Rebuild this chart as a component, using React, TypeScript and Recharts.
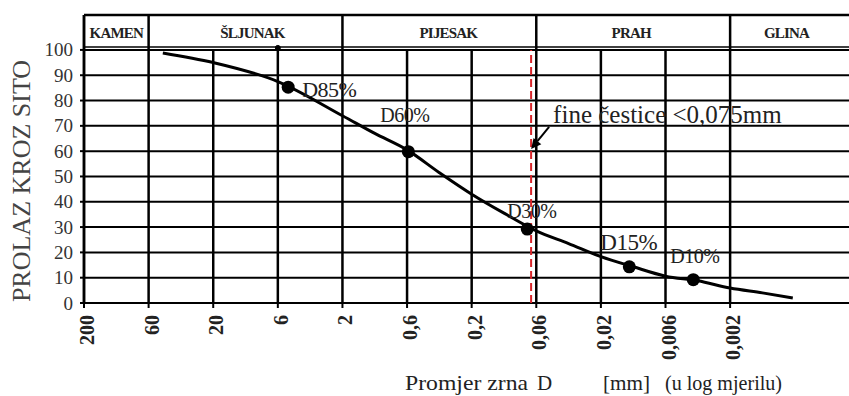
import React from 'react';
import {
  ComposedChart,
  Line,
  Scatter,
  XAxis,
  YAxis,
  CartesianGrid,
  ReferenceLine,
  ReferenceArea,
  ReferenceDot,
  Label,
} from 'recharts';

// ---------- data ----------
const SIEVE_LABELS = ['200', '60', '20', '6', '2', '0,6', '0,2', '0,06', '0,02', '0,006', '0,002'];
const SIEVE_POS = [0, 1, 2, 3, 4, 5, 6, 7, 8, 9, 10];
const PASSING_TICKS = [0, 10, 20, 30, 40, 50, 60, 70, 80, 90, 100];

const CURVE_X = [1.22, 2, 3, 4, 4.5, 5, 5.5, 6, 6.5, 7, 7.5, 8, 8.5, 9, 9.5, 10, 10.5, 10.97];
const CURVE_Y = [98.8, 95, 87.5, 74, 67, 60.5, 51.5, 43, 35.5, 28.5, 23.5, 18.3, 14.3, 10.6, 8.8, 5.9, 4, 2];

const D_NAMES = ['D85%', 'D60%', 'D30%', 'D15%', 'D10%'];
const D_X = [3.16, 5.02, 6.86, 8.44, 9.43];
const D_Y = [85.3, 59.8, 29.2, 14.3, 9.2];

const SOIL_CLASSES = ['KAMEN', 'ŠLJUNAK', 'PIJESAK', 'PRAH', 'GLINA'];
const CLASS_BOUNDS = [0, 1, 4, 7, 10, 11.84];

const FINES_LIMIT = 6.92; // position of 0,075 mm on the sieve axis
const FINES_TEXT = 'fine čestice <0,075mm';

const X_MAX = 11.84;
const Y_TOP = 113.8;

// ---------- styles ----------
const FONT = '"Liberation Serif", "Times New Roman", serif';
const LABEL_STYLE: Record<string, { dx: number; dy: number; size: number }> = {
  'D85%': { dx: 14, dy: 2, size: 22 },
  'D60%': { dx: -28, dy: -37, size: 20 },
  'D30%': { dx: -20, dy: -18, size: 20 },
  'D15%': { dx: -29, dy: -24, size: 23 },
  'D10%': { dx: -23, dy: -24, size: 20 },
};
const HEADER_DX: Record<string, number> = { KAMEN: 0, 'ŠLJUNAK': 7, PIJESAK: 9, PRAH: -2, GLINA: -3 };

const curve = CURVE_X.map((x, i) => ({ x, y: CURVE_Y[i] }));
const dPoints = D_NAMES.map((name, i) => ({ name, x: D_X[i], y: D_Y[i] }));

const XTick = (props: any) => {
  const { x, y, payload } = props;
  const ty = y + 5;
  return (
    <text
      x={x + 3}
      y={ty}
      transform={`rotate(-90, ${x + 3}, ${ty})`}
      textAnchor="end"
      dominantBaseline="central"
      fontFamily={FONT}
      fontWeight="bold"
      fontSize={20}
      fill="#222"
    >
      {SIEVE_LABELS[payload.value]}
    </text>
  );
};

const YTick = (props: any) => {
  const { x, y, payload } = props;
  return (
    <text x={x} y={y} textAnchor="end" dominantBaseline="central" fontFamily={FONT} fontSize={19} fill="#333">
      {payload.value}
    </text>
  );
};

const DShape = (props: any) => {
  const { cx, cy, payload } = props;
  const s = LABEL_STYLE[payload.name];
  return (
    <g>
      <circle cx={cx} cy={cy} r={6.5} fill="#000" />
      <text
        x={cx + s.dx}
        y={cy + s.dy}
        dominantBaseline="central"
        fontFamily={FONT}
        fontSize={s.size}
        fill="#222"
        letterSpacing={-0.5}
      >
        {payload.name}
      </text>
    </g>
  );
};

const FinesLabel = (props: any) => {
  const { viewBox } = props;
  const x = viewBox.x;
  const y = viewBox.y;
  const tx = x + 18;
  const ty = y + 77;
  const hx = x;
  const hy = y + 99;
  const ang = Math.atan2(hy - ty, hx - tx);
  const L = 10;
  const W = 5;
  const bx = hx - L * Math.cos(ang);
  const by = hy - L * Math.sin(ang);
  const px = -Math.sin(ang) * W;
  const py = Math.cos(ang) * W;
  return (
    <g>
      <line x1={tx} y1={ty} x2={bx} y2={by} stroke="#000" strokeWidth={2} />
      <polygon points={`${hx},${hy} ${bx + px},${by + py} ${bx - px},${by - py}`} fill="#000" />
      <text x={x + 22} y={y + 73} fontFamily={FONT} fontSize={25} fill="#222">
        {FINES_TEXT}
      </text>
    </g>
  );
};

const YTitle = (props: any) => {
  const { viewBox } = props;
  const cx = 21;
  const cy = viewBox.y + 166;
  return (
    <text
      x={cx}
      y={cy}
      transform={`rotate(-90, ${cx}, ${cy})`}
      textAnchor="middle"
      dominantBaseline="central"
      fontFamily={FONT}
      fontSize={26}
      fill="#444"
    >
      PROLAZ KROZ SITO
    </text>
  );
};

const XTitle = (props: any) => {
  const { viewBox } = props;
  const by = viewBox.y + 87;
  const x0 = viewBox.x;
  const common = { fontFamily: FONT, fontSize: 21, fill: '#222' };
  return (
    <g>
      <text {...common} x={x0 + 321} y={by} textLength={123} lengthAdjust="spacingAndGlyphs">Promjer zrna</text>
      <text {...common} x={x0 + 453} y={by}>D</text>
      <text {...common} x={x0 + 519} y={by} textLength={47} lengthAdjust="spacingAndGlyphs">[mm]</text>
      <text {...common} x={x0 + 581} y={by} textLength={117} lengthAdjust="spacingAndGlyphs">(u log mjerilu)</text>
    </g>
  );
};

export default function App() {
  return (
    <div style={{ position: 'absolute', left: 0, top: 0, background: '#fff' }}>
      <ComposedChart width={849} height={396} margin={{ top: 15, right: 0, left: 0, bottom: 0 }}>
        <CartesianGrid vertical={false} stroke="#000" strokeWidth={2} />
        <XAxis
          type="number"
          dataKey="x"
          domain={[0, X_MAX]}
          ticks={SIEVE_POS}
          interval={0}
          allowDataOverflow
          height={93}
          axisLine={false}
          tickLine={{ stroke: '#000', strokeWidth: 2 }}
          tickSize={5}
          tick={<XTick />}
          label={<XTitle />}
        />
        <YAxis
          type="number"
          domain={[0, Y_TOP]}
          ticks={PASSING_TICKS}
          interval={0}
          allowDataOverflow
          width={84}
          axisLine={{ stroke: '#000', strokeWidth: 2.5 }}
          tickLine={{ stroke: '#000', strokeWidth: 2 }}
          tickSize={4}
          tickMargin={7}
          tick={<YTick />}
          label={<YTitle />}
        />

        {SOIL_CLASSES.map((name, i) => (
          <ReferenceArea
            key={name}
            x1={CLASS_BOUNDS[i]}
            x2={CLASS_BOUNDS[i + 1]}
            y1={100}
            y2={Y_TOP}
            fill="none"
            stroke="none"
          >
            <Label
              value={name}
              position="center"
              dx={HEADER_DX[name]}
              fontFamily={FONT}
              fontWeight="bold"
              fontSize={15}
              letterSpacing={-0.8}
              fill="#222"
            />
          </ReferenceArea>
        ))}

        <ReferenceLine y={Y_TOP} stroke="#000" strokeWidth={2.5} />
        <ReferenceLine y={101.2} stroke="#000" strokeWidth={1.5} />

        {SIEVE_POS.map((p) => (
          <ReferenceLine
            key={`v${p}`}
            segment={[
              { x: p, y: 0 },
              { x: p, y: CLASS_BOUNDS.includes(p) ? Y_TOP : 100 },
            ]}
            stroke="#000"
            strokeWidth={2.5}
          />
        ))}
        <ReferenceDot x={3} y={100.8} r={2.5} fill="#000" stroke="#000" />

        <ReferenceLine
          segment={[
            { x: FINES_LIMIT, y: 0 },
            { x: FINES_LIMIT, y: 100 },
          ]}
          stroke="#d8262b"
          strokeWidth={2}
          strokeDasharray="8 4"
          label={<FinesLabel />}
        />

        <Line
          data={curve}
          dataKey="y"
          type="monotone"
          stroke="#000"
          strokeWidth={3}
          dot={false}
          activeDot={false}
          isAnimationActive={false}
        />
        <Scatter data={dPoints} dataKey="y" shape={<DShape />} isAnimationActive={false} />
      </ComposedChart>
    </div>
  );
}
